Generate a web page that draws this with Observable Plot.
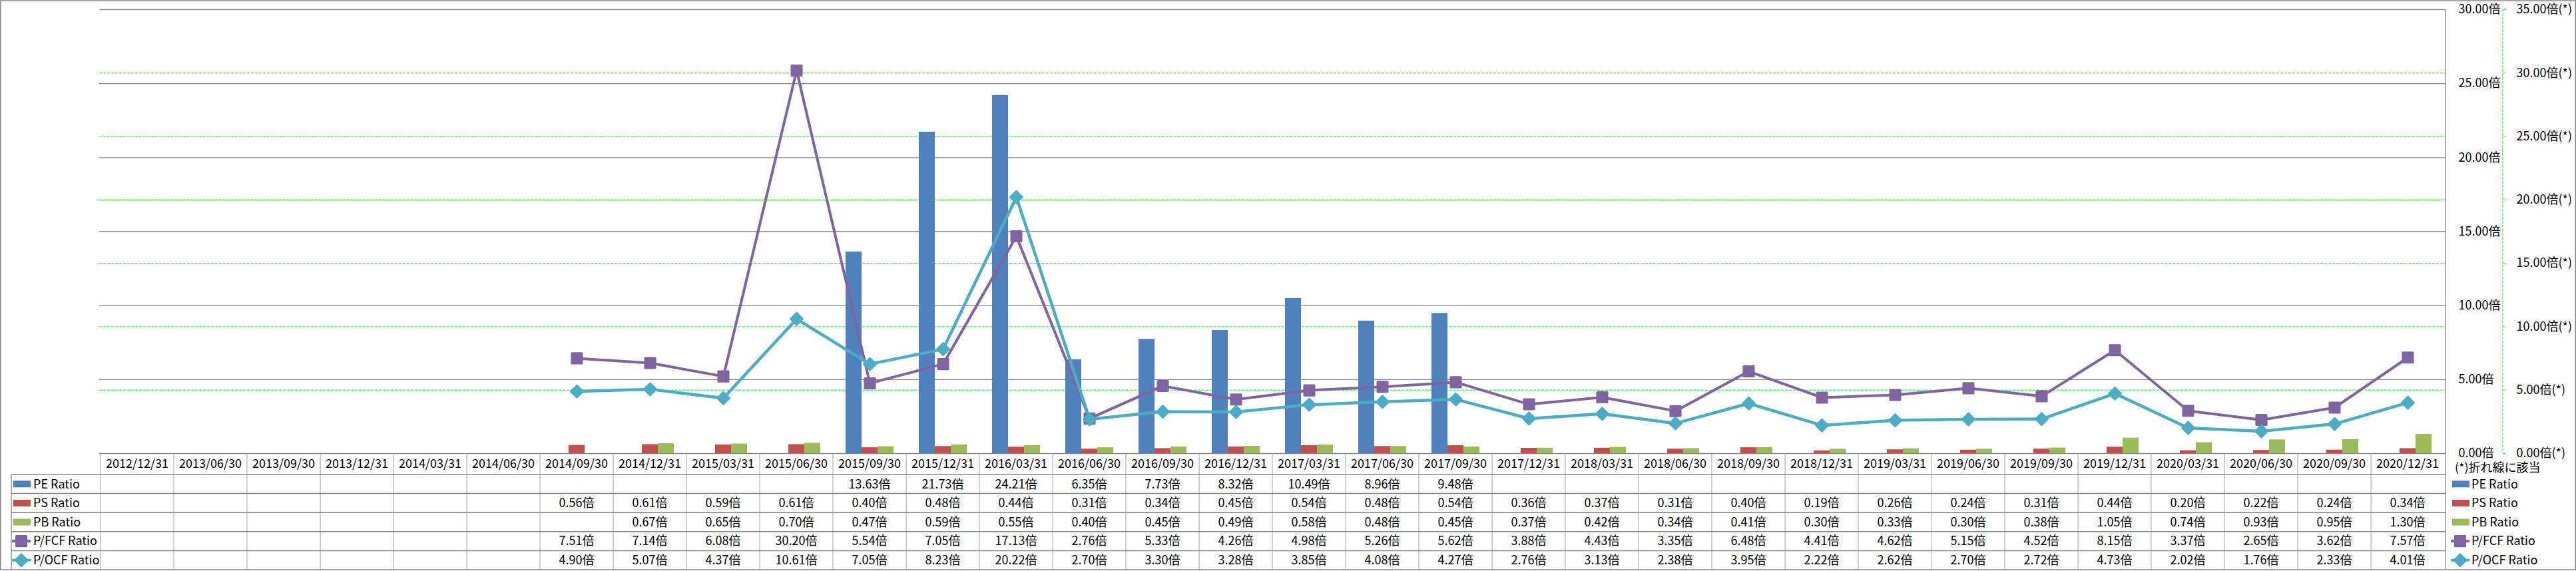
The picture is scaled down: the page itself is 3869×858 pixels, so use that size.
<!DOCTYPE html>
<html><head><meta charset="utf-8">
<script src="https://cdn.jsdelivr.net/npm/d3@7"></script>
<script src="https://cdn.jsdelivr.net/npm/@observablehq/plot@0.6"></script>
<style>
body{margin:0;background:#fff;}
#chart{position:relative;width:3869px;height:858px;font-family:"Noto Sans CJK JP","Noto Sans",sans-serif;}
#chart svg{position:absolute;left:0;top:0;overflow:visible;background:transparent;max-width:none;}
</style></head><body><div id="chart"></div>
<script>
// ---------- data ----------
const dates = ["2012/12/31","2013/06/30","2013/09/30","2013/12/31","2014/03/31","2014/06/30","2014/09/30","2014/12/31","2015/03/31","2015/06/30","2015/09/30","2015/12/31","2016/03/31","2016/06/30","2016/09/30","2016/12/31","2017/03/31","2017/06/30","2017/09/30","2017/12/31","2018/03/31","2018/06/30","2018/09/30","2018/12/31","2019/03/31","2019/06/30","2019/09/30","2019/12/31","2020/03/31","2020/06/30","2020/09/30","2020/12/31"];
const peRatio  = [null,null,null,null,null,null,null,null,null,null,13.63,21.73,24.21,6.35,7.73,8.32,10.49,8.96,9.48,null,null,null,null,null,null,null,null,null,null,null,null,null];
const psRatio  = [null,null,null,null,null,null,0.56,0.61,0.59,0.61,0.40,0.48,0.44,0.31,0.34,0.45,0.54,0.48,0.54,0.36,0.37,0.31,0.40,0.19,0.26,0.24,0.31,0.44,0.20,0.22,0.24,0.34];
const pbRatio  = [null,null,null,null,null,null,null,0.67,0.65,0.70,0.47,0.59,0.55,0.40,0.45,0.49,0.58,0.48,0.45,0.37,0.42,0.34,0.41,0.30,0.33,0.30,0.38,1.05,0.74,0.93,0.95,1.30];
const pfcfRatio= [null,null,null,null,null,null,7.51,7.14,6.08,30.20,5.54,7.05,17.13,2.76,5.33,4.26,4.98,5.26,5.62,3.88,4.43,3.35,6.48,4.41,4.62,5.15,4.52,8.15,3.37,2.65,3.62,7.57];
const pocfRatio= [null,null,null,null,null,null,4.90,5.07,4.37,10.61,7.05,8.23,20.22,2.70,3.30,3.28,3.85,4.08,4.27,2.76,3.13,2.38,3.95,2.22,2.62,2.70,2.72,4.73,2.02,1.76,2.33,4.01];
const seriesNames = ["PE Ratio","PS Ratio","PB Ratio","P/FCF Ratio","P/OCF Ratio"];
const barSeries = ["PE Ratio","PS Ratio","PB Ratio"];
const leftTicks = [0,5,10,15,20,25,30];
const rightTicks = [0,5,10,15,20,25,30,35];
const unitLabel = "倍";
const noteLabel = "(*)折れ線に該当";

// ---------- styles ----------
const seriesColors = ["#4F81BD","#C0504D","#9BBB59","#8064A2","#4BACC6"];
const W = 3869, H = 858;
const mL = 149, mR = 196, mT = 14, mB = H - 681;
const FONT = '"Noto Sans CJK JP","Noto Sans",sans-serif';
const FS = 18;
const baseStyle = {fontFamily: FONT, fontSize: FS + "px", background: "transparent", overflow: "visible", color: "#000"};
const gridGray = "#868686";
const green = "#00ff00";
const common = {width: W, height: H, marginLeft: mL, marginRight: mR, marginTop: mT, marginBottom: mB, style: baseStyle};

const seriesArrays = [peRatio, psRatio, pbRatio, pfcfRatio, pocfRatio];
const barData = [];
dates.forEach((d, i) => {
  barSeries.forEach((s, k) => { const v = seriesArrays[k][i]; if (v != null) barData.push({date: d, series: s, value: v}); });
});
const lineOf = arr => dates.map((d, i) => ({date: d, value: arr[i]})).filter(o => o.value != null);
const fcfData = lineOf(pfcfRatio), ocfData = lineOf(pocfRatio);

const root = document.getElementById("chart");

// Layer 1: secondary (line) axis, green dashed grid
const L1 = Plot.plot({...common,
  y: {domain: [0, 35]},
  marks: [
    Plot.gridY(rightTicks.filter(v => v > 0 && v < 35), {stroke: green, strokeOpacity: 1, strokeDasharray: "4,2", strokeWidth: 1}),
    Plot.axisY(rightTicks, {anchor: "right", dx: 86, tickSize: 3, tickPadding: 17, stroke: green, fill: "#000", tickFormat: d => d.toFixed(2) + unitLabel + "(*)"})
  ]});
{
  const ys = L1.scale("y");
  d3.select(L1).append("line")
    .attr("x1", W - mR + 86).attr("x2", W - mR + 86)
    .attr("y1", ys.apply(35)).attr("y2", ys.apply(0))
    .attr("stroke", green).attr("stroke-dasharray", "4,2");
}
root.appendChild(L1);

// Layer 2: primary (bar) axis, gray grid
const L2 = Plot.plot({...common,
  y: {domain: [0, 30]},
  marks: [
    Plot.gridY(leftTicks, {stroke: gridGray, strokeOpacity: 1, strokeWidth: 1.3}),
    Plot.axisY(leftTicks, {anchor: "right", tickSize: 0, tickPadding: 19, fill: "#000", tickFormat: d => d.toFixed(2) + unitLabel})
  ]});
root.appendChild(L2);

// Layer 3: bars
const L3 = Plot.plot({...common,
  fx: {domain: dates, padding: 0, axis: null},
  x: {domain: barSeries, paddingInner: 0, paddingOuter: 0.76, axis: null},
  y: {domain: [0, 30], axis: null},
  color: {domain: barSeries, range: seriesColors.slice(0, 3)},
  marks: [Plot.barY(barData, {fx: "date", x: "series", y: "value", fill: "series"})]
});
root.appendChild(L3);

// Layer 4: lines (secondary axis)
const L4 = Plot.plot({...common,
  x: {type: "band", domain: dates, padding: 0, axis: null},
  y: {domain: [0, 35], axis: null},
  marks: [
    Plot.lineY(fcfData, {x: "date", y: "value", stroke: seriesColors[3], strokeWidth: 4}),
    Plot.dot(fcfData, {x: "date", y: "value", symbol: "square", r: 8.5, fill: seriesColors[3], stroke: seriesColors[3], strokeWidth: 3, strokeLinejoin: "round"}),
    Plot.lineY(ocfData, {x: "date", y: "value", stroke: seriesColors[4], strokeWidth: 4.5}),
    Plot.dot(ocfData, {x: "date", y: "value", symbol: "diamond2", r: 8, fill: seriesColors[4], stroke: seriesColors[4], strokeWidth: 3, strokeLinejoin: "round"})
  ]});

// Table layer (uses the x scale of the line layer)
const xs = L4.scale("x");
const bw = xs.bandwidth;
const xEnd = W - mR;
const headTop = 681, bodyTop = 713, bodyBot = 856, tableLeft = 17;
const rowBand = d3.scaleBand(seriesNames, [bodyTop, bodyBot]);
const T = d3.create("svg").attr("width", W).attr("height", H)
  .style("font-family", FONT).style("font-size", FS + "px");
dates.forEach(d => {
  T.append("line").attr("x1", xs.apply(d)).attr("x2", xs.apply(d)).attr("y1", headTop).attr("y2", bodyBot)
    .attr("stroke", "#a0a0a0").attr("stroke-width", 1);
});
T.append("line").attr("x1", xEnd).attr("x2", xEnd).attr("y1", mT).attr("y2", bodyBot).attr("stroke", gridGray).attr("stroke-width", 1.3);
T.append("line").attr("x1", tableLeft).attr("x2", tableLeft).attr("y1", bodyTop).attr("y2", bodyBot).attr("stroke", gridGray).attr("stroke-width", 1.3);
seriesNames.forEach(s => {
  T.append("line").attr("x1", tableLeft).attr("x2", xEnd).attr("y1", rowBand(s)).attr("y2", rowBand(s))
    .attr("stroke", gridGray).attr("stroke-width", 1.5);
});
dates.forEach(d => {
  T.append("text").attr("x", xs.apply(d) + bw / 2).attr("y", (headTop + bodyTop) / 2).attr("dy", "0.35em")
    .attr("text-anchor", "middle").text(d);
});
seriesNames.forEach((s, k) => {
  const cy = rowBand(s) + rowBand.bandwidth() / 2;
  dates.forEach((d, i) => {
    const v = seriesArrays[k][i];
    if (v == null) return;
    T.append("text").attr("x", xs.apply(d) + bw / 2).attr("y", cy).attr("dy", "0.35em")
      .attr("text-anchor", "middle").text(v.toFixed(2) + unitLabel);
  });
});
function legendKey(g, k, x0, cy) {
  const c = seriesColors[k];
  if (k < 3) {
    g.append("rect").attr("x", x0).attr("y", cy - 5).attr("width", 26).attr("height", 10).attr("fill", c);
  } else {
    g.append("line").attr("x1", x0 - 2).attr("x2", x0 + 26).attr("y1", cy).attr("y2", cy).attr("stroke", c).attr("stroke-width", 4);
    const sym = k === 3 ? d3.symbolSquare : d3.symbolDiamond2;
    const r = k === 3 ? 8.5 : 8;
    g.append("path").attr("d", d3.symbol(sym, Math.PI * r * r)()).attr("transform", `translate(${x0 + 12},${cy})`)
      .attr("fill", c).attr("stroke", c).attr("stroke-width", 3).attr("stroke-linejoin", "round");
  }
}
seriesNames.forEach((s, k) => {
  const cy = rowBand(s) + rowBand.bandwidth() / 2;
  legendKey(T, k, 20, cy);
  T.append("text").attr("x", 50).attr("y", cy).attr("dy", "0.35em").text(s);
  legendKey(T, k, xEnd + 10, cy);
  T.append("text").attr("x", xEnd + 39).attr("y", cy).attr("dy", "0.35em").text(s);
});
T.append("text").attr("x", xEnd + 14).attr("y", 703).attr("dy", "0.35em").text(noteLabel);
T.append("rect").attr("x", 0.75).attr("y", 1).attr("width", W - 1.5).attr("height", bodyBot - 1)
  .attr("fill", "none").attr("stroke", gridGray).attr("stroke-width", 1.5);
root.appendChild(T.node());
root.appendChild(L4);
</script>
</body></html>
